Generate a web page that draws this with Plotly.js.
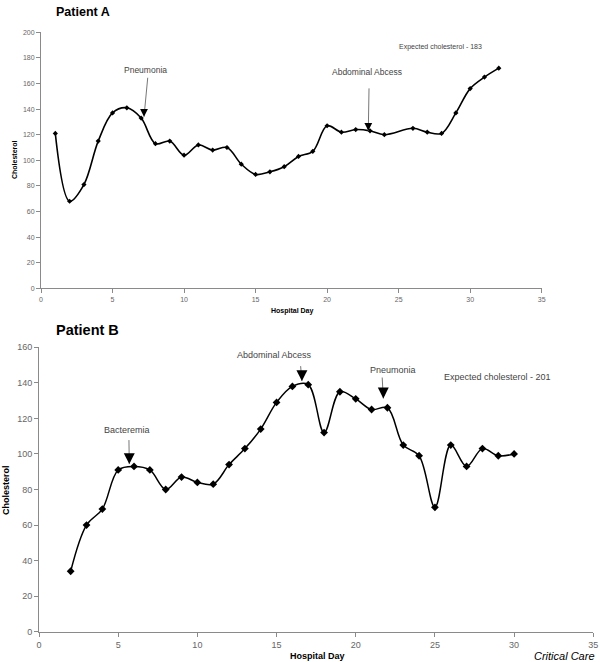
<!DOCTYPE html>
<html>
<head>
<meta charset="utf-8">
<script src="https://cdn.plot.ly/plotly-3.0.1.min.js"></script>
<style>
html,body{margin:0;padding:0;background:#fff;}
#chart{width:600px;height:662px;}
</style>
</head>
<body>
<div id="chart"></div>
<script>
// ---- Data ----
const daysA = [1,2,3,4,5,6,7,8,9,10,11,12,13,14,15,16,17,18,19,20,21,22,23,24,26,27,28,29,30,31,32];
const cholA = [121,68,81,115,137,141,133,113,115,104,112,108,110,97,89,91,95,103,107,127,122,124,123,120,125,122,121,137,156,165,172];

const daysB = [2,3,4,5,6,7,8,9,10,11,12,13,14,15,16,17,18,19,20,21,22,23,24,25,26,27,28,29,30];
const cholB = [34,60,69,91,93,91,80,87,84,83,94,103,114,129,138,139,112,135,131,125,126,105,99,70,105,93,103,99,100];

const xTicks = [0,5,10,15,20,25,30,35];
const yTicksA = [0,20,40,60,80,100,120,140,160,180,200];
const yTicksB = [0,20,40,60,80,100,120,140,160];

// event labels: [text, textX, textY, tailX, tailY, headX, headY]
const eventsA = [
  ["Pneumonia", 7.27, 170.5, 7.46, 164.5, 7.2, 134],
  ["Abdominal Abcess", 22.77, 169.2, 22.93, 156.2, 22.88, 123.1]
];
const eventsB = [
  ["Bacteremia", 5.54, 113.4, 5.68, 107.8, 5.70, 94.3],
  ["Abdominal Abcess", 14.84, 155.5, 16.52, 149.4, 16.6, 141],
  ["Pneumonia", 22.37, 147, 21.67, 143, 21.74, 131.2]
];
const expectedA = ["Expected cholesterol - 183", 27.9, 188.7];
const expectedB = ["Expected cholesterol - 201", 28.96, 143.4];

// ---- Styling ----
const FONT = "Liberation Sans, Arial, sans-serif";
const AXCOL = "#8a8a8a";
const TXT = "#444";

const traces = [
  {x: daysA, y: cholA, xaxis: "x", yaxis: "y", type: "scatter", mode: "lines+markers",
   line: {shape: "spline", smoothing: 1, color: "#000", width: 1.6},
   marker: {symbol: "diamond", size: 4, color: "#000"}, hoverinfo: "x+y"},
  {x: daysB, y: cholB, xaxis: "x2", yaxis: "y2", type: "scatter", mode: "lines+markers",
   line: {shape: "spline", smoothing: 1, color: "#000", width: 1.5},
   marker: {symbol: "diamond", size: 6, color: "#000"}, hoverinfo: "x+y"}
];

function axis(domain, range, ticks, fontSize, anchor) {
  return {
    domain: domain, range: range, anchor: anchor,
    tickmode: "array", tickvals: ticks, ticktext: ticks.map(String),
    showgrid: false, zeroline: false, showline: true, linecolor: AXCOL, linewidth: 1,
    ticks: "outside", ticklen: 4, tickcolor: AXCOL, tickwidth: 1,
    tickfont: {family: FONT, size: fontSize, color: "#666"},
    automargin: false, fixedrange: true
  };
}

const annotations = [];
const shapes = [];

function addEvents(events, xr, yr, fsize, headSize) {
  events.forEach(e => {
    annotations.push({x: e[1], y: e[2], xref: xr, yref: yr, text: e[0], showarrow: false,
      font: {family: FONT, size: fsize, color: TXT}, xanchor: "center", yanchor: "middle"});
    shapes.push({type: "line", xref: xr, yref: yr, x0: e[3], y0: e[4], x1: e[5], y1: e[6],
      line: {color: "#777", width: 1}});
    annotations.push({x: e[5], y: e[6], xref: xr, yref: yr, text: "", showarrow: true,
      ax: 0, ay: -headSize, axref: "pixel", ayref: "pixel",
      arrowhead: 2, arrowsize: 1, arrowwidth: headSize/3.2, arrowcolor: "#000"});
  });
}
addEvents(eventsA, "x", "y", 8.5, 5);
addEvents(eventsB, "x2", "y2", 9, 7);

annotations.push({x: expectedA[1], y: expectedA[2], xref: "x", yref: "y", text: expectedA[0],
  showarrow: false, font: {family: FONT, size: 7, color: TXT}});
annotations.push({x: expectedB[1], y: expectedB[2], xref: "x2", yref: "y2", text: expectedB[0],
  showarrow: false, font: {family: FONT, size: 9, color: TXT}});

function paper(px, py, text, size, opts) {
  annotations.push(Object.assign({x: px/600, y: 1 - py/662, xref: "paper", yref: "paper",
    text: text, showarrow: false, font: {family: FONT, size: size, color: "#000"},
    xanchor: "center", yanchor: "middle"}, opts || {}));
}
// Panel titles
paper(54, 12, "<b>Patient A</b>", 12.5, {xanchor: "left"});
paper(54, 330, "<b>Patient B</b>", 14.5, {xanchor: "left"});
// Axis titles
paper(292, 311, "<b>Hospital Day</b>", 7);
paper(14, 160, "<b>Cholesterol</b>", 7, {textangle: -90});
paper(317, 656, "<b>Hospital Day</b>", 9);
paper(6, 490, "<b>Cholesterol</b>", 9, {textangle: -90});
// Source
paper(597, 656, "<i>Critical Care</i>", 11, {xanchor: "right"});

const layout = {
  width: 600, height: 662,
  margin: {l: 0, r: 0, t: 0, b: 0},
  paper_bgcolor: "#fff", plot_bgcolor: "#fff",
  showlegend: false,
  xaxis: axis([41/600, 541.7/600], [0, 35], xTicks, 7, "y"),
  yaxis: axis([1 - 288.3/662, 1 - 32.3/662], [0, 200], yTicksA, 7, "x"),
  xaxis2: axis([39/600, 593.3/600], [0, 35], xTicks, 9, "y2"),
  yaxis2: axis([1 - 631.7/662, 1 - 347.3/662], [0, 160], yTicksB, 9, "x2"),
  annotations: annotations,
  shapes: shapes
};

Plotly.newPlot("chart", traces, layout, {displayModeBar: false, staticPlot: true});
</script>
</body>
</html>
